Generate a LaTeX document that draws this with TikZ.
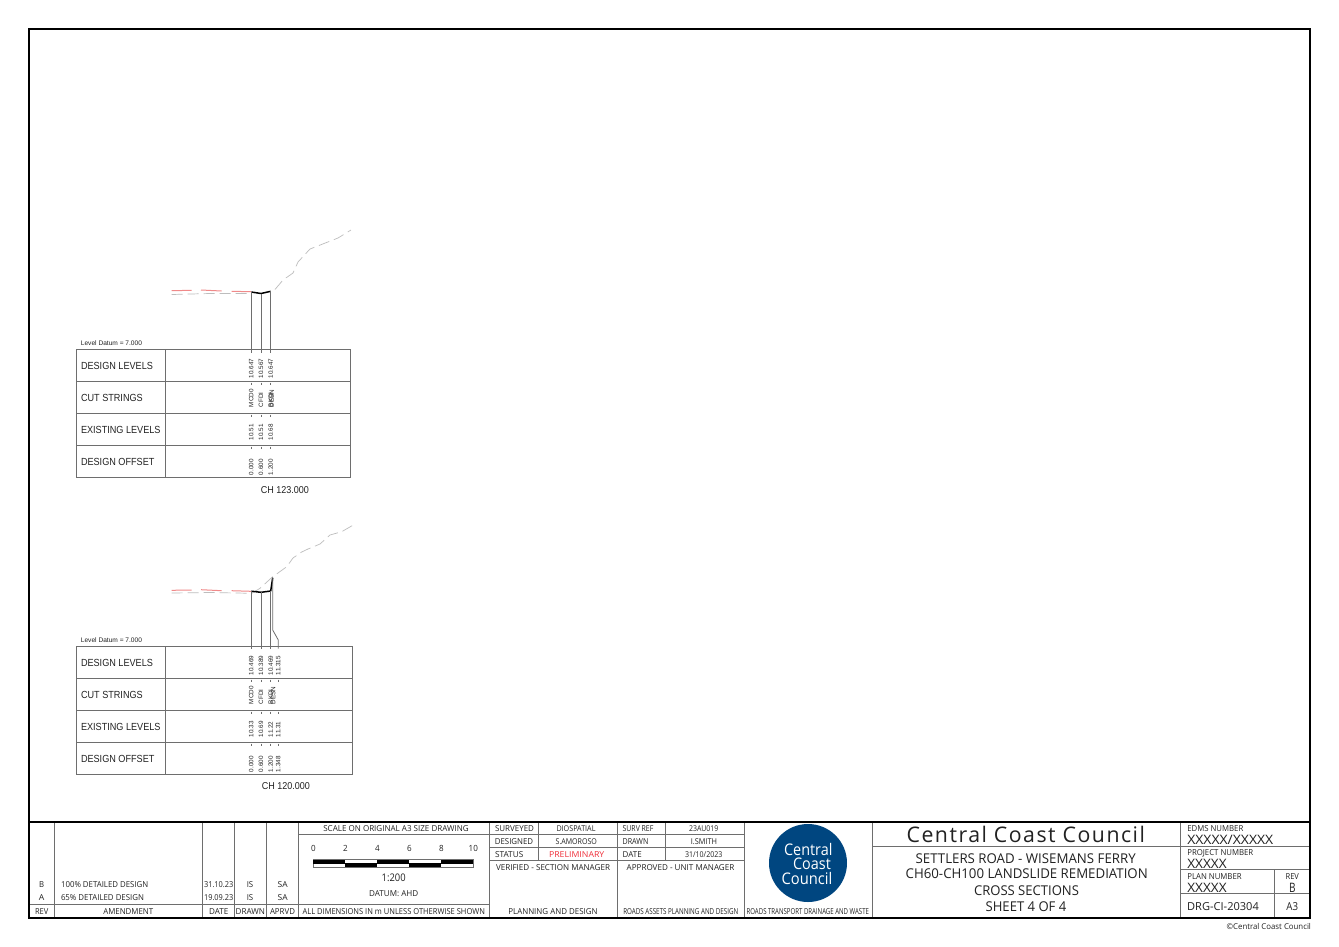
\documentclass[tikz,border=0pt]{standalone}
\usepackage{graphicx}
\usepackage{fontspec}
\setmainfont{Open Sans}
\newfontfamily\secfont{Liberation Sans}
\definecolor{ink}{HTML}{222222}
\definecolor{rulegray}{HTML}{6E6E6E}
\definecolor{logoblue}{HTML}{004680}
\definecolor{prelim}{HTML}{F0303A}
\definecolor{cutred}{HTML}{F08A8A}
\definecolor{groundgray}{HTML}{BDBDBD}
\tikzset{
  frameline/.style={draw=black,line width=1.5pt},
  cellline/.style={draw=rulegray,line width=0.9pt},
  tableline/.style={draw=rulegray,line width=0.9pt},
  leader/.style={draw=rulegray,line width=0.8pt},
  ticks/.style={draw=rulegray,line width=0.7pt},
  design/.style={draw=black,line width=1.5pt,line join=round},
  cutline/.style={draw=cutred,line width=1pt},
  ground/.style={draw=groundgray,line width=0.7pt,dash pattern=on 11pt off 5pt},
  txt/.style={inner sep=0pt,outer sep=0pt,anchor=center},
  vtxt/.style={inner sep=0pt,outer sep=0pt,rotate=90,anchor=west,text=ink,font=\secfont\fontsize{6.3}{6.3}\selectfont},
  rowlabel/.style={inner sep=0pt,outer sep=0pt,anchor=west,text=ink,font=\secfont\fontsize{10.3}{10.3}\selectfont},
  chtitle/.style={inner sep=0pt,text=ink,font=\secfont\fontsize{10}{10}\selectfont},
}
\newsavebox\ftbox
\newcount\ftcnt
% [colour]{x}{y}{size}{target width}{text}
\newcommand\ft[6][ink]{%
  \global\advance\ftcnt by 1
  \node[txt,text=#1] (ft\the\ftcnt) at (#2,#3+0.5) {%
    \sbox\ftbox{\fontsize{#4}{#4}\selectfont #6}%
    \pgfmathsetmacro\ftr{#5/\the\wd\ftbox}%
    \scalebox{\ftr}[1]{\usebox\ftbox}};%
}
\newcommand\rl[1]{\scalebox{0.885}[1]{#1}}
\newcommand\vcol[6]{% x, name prefix, four texts
  \node[vtxt] (#2a) at (#1,378) {#3};
  \node[vtxt] (#2b) at (#1,407) {#4};
  \node[vtxt] (#2c) at (#1,440) {#5};
  \node[vtxt] (#2d) at (#1,475) {#6};
}
\newcommand\vcolb[6]{%
  \node[vtxt] (#2a) at (#1,675) {#3};
  \node[vtxt] (#2b) at (#1,704) {#4};
  \node[vtxt] (#2c) at (#1,737) {#5};
  \node[vtxt] (#2d) at (#1,772) {#6};
}
\begin{document}
\begin{tikzpicture}[x=1pt,y=-1pt]
\useasboundingbox (0,0) rectangle (1339,946);
\fill[white] (0,0) rectangle (1339,946);

%% ---------- Section CH 123.000 ----------
\draw[ground] (171.7,294.5) -- (210,293.5) -- (251,293.5);
\draw[ground] (275,289.5) -- (283,280) -- (293,273) -- (298,262) -- (310,249) -- (338,238) -- (351,230);
\draw[cutline] (171.7,290.7) -- (191.7,290.3);
\draw[cutline] (201,290) -- (221.7,291);
\draw[cutline] (231.7,291.3) -- (251,291.7);
\coordinate (a1) at (251.3,292);
\coordinate (a2) at (261,293.5);
\coordinate (a3) at (270.7,291.3);
\draw[design] (a1) -- (a2) -- (a3);
\draw[leader] (a1) -- (251.3,352.5);
\draw[leader] (a2) -- (261,352.5);
\draw[leader] (a3) -- (270.7,352.5);
\draw[tableline] (76.7,349.5) rectangle (350,477);
\draw[tableline] (165.7,349.5) -- (165.7,477);
\foreach \y in {381.7,413.3,445.3} \draw[tableline] (76.7,\y) -- (350,\y);
\foreach \x in {251.3,261,270.7} \foreach \y in {382.5,414.5,446.5} \draw[ticks] (\x,\y) -- (\x,\y+2.5);
\node[inner sep=0pt,anchor=west,text=ink,font=\secfont\fontsize{6.6}{6.6}\selectfont] (da) at (80.7,343.5) {Level Datum = 7.000};
\node[rowlabel] (a1l) at (81,366) {\rl{DESIGN LEVELS}};
\node[rowlabel] (a2l) at (81,398) {\rl{CUT STRINGS}};
\node[rowlabel] (a3l) at (81,430) {\rl{EXISTING LEVELS}};
\node[rowlabel] (a4l) at (81,461.5) {\rl{DESIGN OFFSET}};
\vcol{251.3}{ac}{10.647}{MCD0}{10.51}{0.000}
\vcol{261}{ad}{10.567}{CFDI}{10.51}{0.600}
\vcol{270.7}{ae}{10.647}{BKDI}{10.68}{1.200}
\node[vtxt] (aex) at (271.6,407) {DESN};
\node[chtitle] (atitle) at (285,490) {\scalebox{0.9}[1]{CH 123.000}};

%% ---------- Section CH 120.000 ----------
\draw[ground] (171.7,593) -- (210,592.5) -- (251.7,593.3) -- (260,588.3) -- (272.7,576.7) -- (278,573) -- (286.7,566.7) -- (293,558) -- (301.7,552) -- (308,549) -- (320,544) -- (330,535) -- (341.7,531.7) -- (353.3,525);
\draw[cutline] (171.7,590.3) -- (191.7,590);
\draw[cutline] (201,589.7) -- (221.7,590.7);
\draw[cutline] (231.7,590.7) -- (251,591.3);
\coordinate (b1) at (251.3,591.2);
\coordinate (b2) at (261,592.3);
\coordinate (b3) at (270.7,591);
\coordinate (b4) at (272.7,577.7);
\draw[design] (b1) -- (b2) -- (b3) -- (b4);
\draw[leader] (b1) -- (251.3,648.5);
\draw[leader] (b2) -- (261,648.5);
\draw[leader] (b3) -- (270.7,648.5);
\draw[leader] (b4) -- (272.7,630) -- (278.3,640) -- (278.3,648.5);
\draw[tableline] (76.7,646.3) rectangle (352.3,774);
\draw[tableline] (165.7,646.3) -- (165.7,774);
\foreach \y in {678.3,710.3,742.3} \draw[tableline] (76.7,\y) -- (352.3,\y);
\foreach \x in {251.3,261,270.7,278.3} \foreach \y in {679.5,711.5,743.5} \draw[ticks] (\x,\y) -- (\x,\y+2.5);
\node[inner sep=0pt,anchor=west,text=ink,font=\secfont\fontsize{6.6}{6.6}\selectfont] (db) at (80.7,640.5) {Level Datum = 7.000};
\node[rowlabel] (b1l) at (81,663) {\rl{DESIGN LEVELS}};
\node[rowlabel] (b2l) at (81,695) {\rl{CUT STRINGS}};
\node[rowlabel] (b3l) at (81,727) {\rl{EXISTING LEVELS}};
\node[rowlabel] (b4l) at (81,758.5) {\rl{DESIGN OFFSET}};
\vcolb{251.3}{bc}{10.469}{MCD0}{10.33}{0.000}
\vcolb{261}{bd}{10.389}{CFDI}{10.69}{0.600}
\vcolb{270.7}{be}{10.469}{BKDI}{11.22}{1.200}
\node[vtxt] (bfa) at (278.3,675) {11.315};
\node[vtxt] (bfb) at (273.2,704) {DESN};
\node[vtxt] (bfc) at (278.3,737) {11.31};
\node[vtxt] (bfd) at (278.3,772) {1.348};
\node[chtitle] (btitle) at (286,786) {\scalebox{0.9}[1]{CH 120.000}};

%% ---------- Title block rules ----------
\foreach \x in {54,202,234,266} \draw[cellline] (\x,822) -- (\x,918);
\draw[cellline] (298,822) -- (298,918);
\draw[cellline] (489,822) -- (489,918);
\draw[cellline] (617,822) -- (617,918);
\draw[cellline] (744,822) -- (744,918);
\draw[cellline] (872,822) -- (872,918);
\draw[cellline] (1180,822) -- (1180,918);
\draw[cellline] (538,822) -- (538,860);
\draw[cellline] (665,822) -- (665,860);
\draw[cellline] (1274,869) -- (1274,918);
\draw[cellline] (298,834) -- (489,834);
\foreach \y in {834,847,860} \draw[cellline] (489,\y) -- (744,\y);
\draw[cellline] (29,904.5) -- (489,904.5);
\draw[cellline] (872,846) -- (1310,846);
\draw[cellline] (1180,869) -- (1310,869);
\draw[cellline] (1180,893) -- (1310,893);

%% scale bar
\draw[draw=rulegray,line width=0.6pt] (313.3,859) rectangle (473.3,867);
\foreach \x in {313.3,377.3,441.3} \fill[black] (\x,859.6) rectangle (\x+32,864);
\foreach \x in {345.3,409.3} \fill[black] (\x,862.6) rectangle (\x+32,867);
\ft{313.3}{848}{8.5}{4.6}{0}
\ft{345.3}{848}{8.5}{4.6}{2}
\ft{377.3}{848}{8.5}{4.6}{4}
\ft{409.3}{848}{8.5}{4.6}{6}
\ft{441.3}{848}{8.5}{4.6}{8}
\ft{473.3}{848}{8.5}{9.2}{10}

%% logo
\node[circle,fill=logoblue,minimum size=78pt,inner sep=0pt] (logo) at (808,863) {};
\ft[white]{808.3}{849}{16}{48.3}{Central}
\ft[white]{812}{863.5}{16}{37.7}{Coast}
\ft[white]{807}{878}{16}{50.7}{Council}

%% left block text
\ft{396}{828.2}{8.2}{145.4}{SCALE ON ORIGINAL A3 SIZE DRAWING}
\ft{41.7}{883.7}{8.2}{5}{B}
\ft{41.7}{897}{8.2}{5.5}{A}
\ft{41.7}{911}{8.2}{13.3}{REV}
\ft{104.7}{883.7}{8.2}{87.3}{100\% DETAILED DESIGN}
\ft{102.5}{897}{8.2}{83}{65\% DETAILED DESIGN}
\ft{128.3}{911}{8.2}{50}{AMENDMENT}
\ft{218.7}{883.7}{8.2}{29.3}{31.10.23}
\ft{218.7}{897}{8.2}{29.3}{19.09.23}
\ft{218.7}{911}{8.2}{19.3}{DATE}
\ft{250}{883.7}{8.2}{6.5}{IS}
\ft{250}{897}{8.2}{6.5}{IS}
\ft{250.3}{911}{8.2}{29.3}{DRAWN}
\ft{282.7}{883.7}{8.2}{10}{SA}
\ft{282.7}{897}{8.2}{10}{SA}
\ft{282.5}{911}{8.2}{25}{APRVD}
\ft{393.8}{911}{8.2}{182.3}{ALL DIMENSIONS IN m UNLESS OTHERWISE SHOWN}
\ft{393.7}{877.7}{10.5}{24}{1:200}
\ft{393.7}{893}{8.2}{49.3}{DATUM: AHD}

%% middle block text
\ft{514.5}{828.3}{8.2}{39}{SURVEYED}
\ft{514}{841}{8.2}{38.3}{DESIGNED}
\ft{509.2}{853.7}{8.2}{28.3}{STATUS}
\ft{576}{828.3}{8}{39}{DIOSPATIAL}
\ft{576.3}{841}{8}{41.3}{S.AMOROSO}
\ft[prelim]{576.7}{853.7}{8.2}{55.3}{PRELIMINARY}
\ft{638}{828.3}{8.2}{30.7}{SURV REF}
\ft{635.5}{841}{8.2}{25.7}{DRAWN}
\ft{632.2}{853.7}{8.2}{19}{DATE}
\ft{703.7}{828.3}{8}{29.3}{23AU019}
\ft{704}{841}{8}{26.3}{I.SMITH}
\ft{703.7}{853.7}{8}{37.3}{31/10/2023}
\ft{553}{866.7}{8.2}{114}{VERIFIED - SECTION MANAGER}
\ft{680.5}{866.7}{8.2}{107.7}{APPROVED - UNIT MANAGER}
\ft{553}{911}{8.2}{89.3}{PLANNING AND DESIGN}
\ft{680.8}{911}{8.2}{115}{ROADS ASSETS PLANNING AND DESIGN}
\ft{807.8}{911}{8.2}{122.3}{ROADS TRANSPORT DRAINAGE AND WASTE}

%% right block text
\ft{1025.8}{834}{21.5}{238.3}{\addfontfeatures{LetterSpace=7}Central Coast Council}
\ft{1025.7}{857.7}{13.5}{220}{SETTLERS ROAD - WISEMANS FERRY}
\ft{1026.7}{873.3}{13.5}{242}{CH60-CH100 LANDSLIDE REMEDIATION}
\ft{1026.5}{890}{13.5}{105}{CROSS SECTIONS}
\ft{1026}{906}{13.5}{80.7}{SHEET 4 OF 4}
\ft{1215.3}{828.3}{8.2}{56}{EDMS NUMBER}
\ft{1230.3}{839.5}{13}{86}{XXXXX/XXXXX}
\ft{1220.3}{852.3}{8.2}{66}{PROJECT NUMBER}
\ft{1207}{863.7}{13}{39.3}{XXXXX}
\ft{1214.5}{876}{8.2}{54.3}{PLAN NUMBER}
\ft{1207}{887}{13}{39.3}{XXXXX}
\ft{1292.3}{876}{8.2}{13.3}{REV}
\ft{1292.3}{887}{13}{6.5}{B}
\ft{1223}{905.7}{11}{71.7}{DRG-CI-20304}
\ft{1292.2}{905.7}{11}{11.7}{A3}
\ft{1268.8}{925.7}{8}{84.3}{©Central Coast Council}

%% outer frame
\draw[frameline] (29,29) rectangle (1310,918);
\draw[draw=black,line width=1.2pt] (29,822) -- (1310,822);
\end{tikzpicture}
\end{document}
